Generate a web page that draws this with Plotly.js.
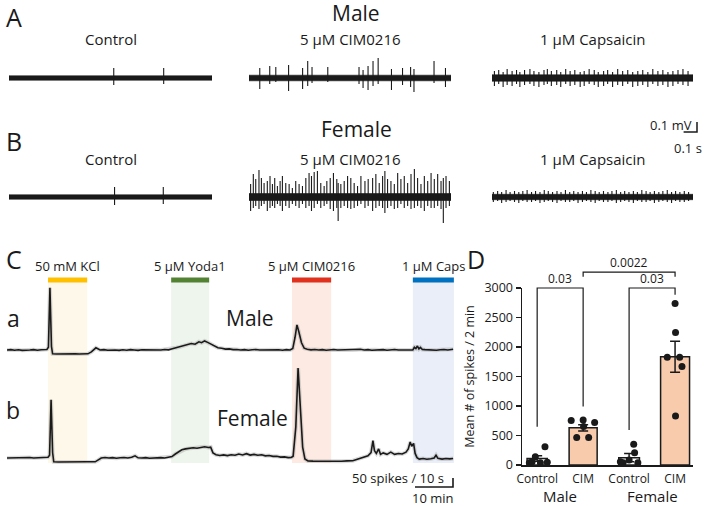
<!DOCTYPE html>
<html><head><meta charset="utf-8">
<script src="https://cdn.plot.ly/plotly-3.0.1.min.js"></script>
<style>html,body{margin:0;padding:0;background:#fff;}#chart{width:709px;height:506px;}</style>
</head><body><div id="chart"></div>
<script>
// ================= DATA =================
// Panels A/B: 1.5 s excerpts of extracellular recordings.
// spike times (ms), upward / downward spike amplitude (mV), baseline noise half-amplitude (mV)
const rawDurationMs = 1500;

const maleCtrlSpikeMs = [774, 1143];
const maleCtrlUp = [0.10, 0.10];
const maleCtrlDown = [0.07, 0.06];
const maleCtrlNoise = 0.022;

const maleCimSpikeMs = [80,154,199,294,398,436,468,585,817,847,884,921,959,1058,1140,1200,1225,1374,1459];
const maleCimUp = [0.10,0.12,0.11,0.13,0.10,0.17,0.11,0.11,0.11,0.08,0.12,0.17,0.20,0.09,0.10,0.11,0.09,0.17,0.10];
const maleCimDown = [0.11,0.06,0.04,0.13,0.11,0.08,0.05,0.04,0.06,0.10,0.12,0.08,0.06,0.12,0.07,0.09,0.14,0.05,0.09];
const maleCimNoise = 0.028;

const maleCapsSpikeMs = [18,50,83,113,150,183,208,243,283,313, 350,388,413,443,483,513,550,583,618,658,
  688,725,763,793,833,863,900,938,975,1013, 1050,1088,1125,1163,1200,1238,1275,1313,1350,1388, 1425,1463];
const maleCapsUp = [0.07,0.08,0.06,0.09,0.07,0.08,0.06,0.08,0.09,0.07, 0.06,0.08,0.09,0.07,0.08,0.06,0.09,0.07,0.08,0.06,
  0.07,0.09,0.08,0.06,0.07,0.08,0.06,0.09,0.07,0.08, 0.06,0.07,0.08,0.06,0.09,0.07,0.08,0.06,0.07,0.08, 0.09,0.07];
const maleCapsDown = [0.08,0.06,0.09,0.07,0.08,0.06,0.09,0.07,0.06,0.08, 0.09,0.07,0.06,0.08,0.07,0.09,0.06,0.08,0.07,0.09,
  0.08,0.06,0.07,0.09,0.08,0.06,0.09,0.07,0.08,0.06, 0.09,0.08,0.07,0.09,0.06,0.08,0.07,0.09,0.08,0.06, 0.07,0.08];
const maleCapsNoise = 0.032;

const femaleCtrlSpikeMs = [780, 1140];
const femaleCtrlUp = [0.10, 0.10];
const femaleCtrlDown = [0.08, 0.07];
const femaleCtrlNoise = 0.022;

const femaleCimSpikeMs = [12,32,50,74,92,112,136,156,174,191, 211,231,248,273,298,322,347,372,397,422,
  446,464,484,508,533,558,578,603,627,652, 662,682,707,732,756,781,806,831,861,885,
  918,942,967,992,1009,1029,1054,1079,1104,1128, 1153,1178,1203,1228,1252,1277,1302,1327,1352,1376,
  1401,1426,1443,1463,1488];
const femaleCimUp = [0.13,0.23,0.18,0.27,0.19,0.14,0.16,0.21,0.13,0.19, 0.11,0.16,0.21,0.14,0.13,0.09,0.16,0.13,0.11,0.19,
  0.24,0.21,0.25,0.26,0.14,0.11,0.16,0.19,0.24,0.18, 0.14,0.13,0.16,0.21,0.19,0.14,0.11,0.21,0.16,0.18,
  0.19,0.23,0.14,0.21,0.26,0.18,0.16,0.13,0.24,0.18, 0.21,0.14,0.23,0.28,0.19,0.13,0.21,0.16,0.24,0.18,
  0.23,0.16,0.19,0.21,0.16];
const femaleCimDown = [0.14,0.11,0.09,0.12,0.09,0.07,0.14,0.11,0.09,0.11, 0.07,0.09,0.14,0.09,0.11,0.07,0.09,0.11,0.07,0.11,
  0.09,0.14,0.11,0.07,0.11,0.09,0.07,0.12,0.14,0.11, 0.24,0.11,0.09,0.11,0.12,0.11,0.09,0.07,0.11,0.09,
  0.14,0.11,0.09,0.11,0.16,0.11,0.09,0.12,0.11,0.07, 0.11,0.09,0.12,0.11,0.09,0.11,0.14,0.09,0.11,0.11,
  0.09,0.12,0.26,0.11,0.09];
const femaleCimNoise = 0.035;

const femaleCapsSpikeMs = [10,42,72,105,135,168,200,230,262,295, 325,358,390,420,452,485,515,548,580,610,
  642,675,705,738,770,800,832,865,895,928, 960,990,1022,1055,1085,1118,1150,1180,1212,1245,
  1275,1308,1340,1370,1402,1435,1467];
const femaleCapsUp = [0.05,0.06,0.05,0.07,0.05,0.06,0.05,0.06,0.07,0.05, 0.06,0.05,0.07,0.06,0.05,0.06,0.05,0.07,0.05,0.06,
  0.05,0.06,0.05,0.07,0.06,0.05,0.06,0.05,0.06,0.07, 0.05,0.06,0.05,0.06,0.05,0.07,0.06,0.05,0.06,0.05,
  0.06,0.07,0.05,0.06,0.05,0.06,0.05];
const femaleCapsDown = [0.05,0.04,0.06,0.05,0.04,0.05,0.06,0.04,0.05,0.05, 0.04,0.06,0.05,0.04,0.05,0.06,0.04,0.05,0.05,0.04,
  0.06,0.05,0.04,0.05,0.06,0.04,0.05,0.05,0.04,0.06, 0.05,0.04,0.05,0.06,0.04,0.05,0.05,0.04,0.06,0.05,
  0.04,0.05,0.06,0.04,0.05,0.05,0.04];
const femaleCapsNoise = 0.027;

const rawColumnTitles = ['Control', '5 µM CIM0216', '1 µM Capsaicin'];
const rawRowTitles = ['Male', 'Female'];

// Panel C: population firing rate (spikes / 10 s) vs time (min)
const maleRateMin = [0,1,2,3,4,5,6,7,8,9,10,10.5,10.9,11.3,11.7,12.0,13,14,15,16,17,18,19,20,21.3,22.2,23.4,24.5,25.5,26.5,
  27.5,28.5,29.5,30.5,31.5,32.5,33.5,34.5,35.5,36.5,37.5,38.5,39.5,40.5,41.5,42.5,43.5,44.5,45.5,46.5,
  47.5,48.5,49.5,50.5,51.2,52,52.8,53.5,54.5,55.5,56.5,57.5,58.5,59.5,60.5,61.5,62.5,63.5,64.5,65.5,
  66.5,67.5,68.5,69.5,70.5,71.5,72.5,73.5,74.5,75.2,75.8,76.3,76.8,77.5,78.2,79,80,81,82,83,
  84,85,86,87,88,89,90,91,92,93,94,95,96,97,98,99,100,101,102,103,
  104,105,106,106.8,107.2,107.6,108,108.4,108.8,109.3,110,111,112,113,114,115,116,117.4];
const maleRate = [30,32,29,31,28,31,30,32,29,31,30,33,45,372,50,9,8,9,8,9,8,9,8,9,9,20,42,30,32,29,
  31,30,28,31,29,32,30,28,31,30,32,29,31,30,33,31,37,42,47,55,
  58,66,62,75,70,80,72,64,50,42,40,35,36,32,33,30,32,29,31,33,
  30,31,29,32,30,31,29,32,30,38,100,168,130,70,40,34,31,33,30,32,
  29,31,33,30,31,29,32,30,31,34,30,32,29,31,30,32,29,31,33,30,
  31,29,32,30,45,38,52,36,44,33,32,30,32,29,31,33,30,34];
const femaleRateMin = [0,1,2,3,4,5,6,7,8,9,10,10.8,11.2,11.6,12.0,12.3,13.5,15,16.5,18,19.5,21,23.2,24,24.8,25.8,26.8,27.8,28.8,29.8,
  30.8,31.8,32.8,33.7,34.5,35.5,36.5,37.5,38.5,39.5,40.5,41.5,42.5,43.4,44.3,45.2,46,47,48,49,
  50,51,52,53,53.6,54.2,55,56,57,58,59,60,61,62,63,64,65,66,67,68,
  69,70,71,72,73,74,74.8,75.3,76,76.6,77.2,77.8,78.4,79.2,80.5,82,83.5,85,86.5,88,
  89.5,91,92,93,94,95,95.8,96.3,96.7,97.2,97.8,98.3,99,100,101,102,103,104,105,105.6,
  106.1,106.5,107,107.4,107.9,108.5,109.5,110.5,111.5,112.4,112.9,113.4,114.5,115.5,116.5,117.4];
const femaleRate = [30,31,29,32,30,31,33,30,32,31,33,34,45,350,60,9,8,9,8,9,8,9,9,18,30,33,30,32,29,31,
  33,30,34,42,31,30,32,29,31,30,32,30,33,38,52,62,75,80,83,86,
  84,90,92,88,90,58,48,44,47,43,48,45,52,47,54,46,50,45,48,42,
  44,39,40,35,36,32,33,40,200,525,300,90,25,14,13,12,14,12,13,12,
  14,15,22,28,36,42,60,125,70,55,80,50,58,50,62,50,55,52,62,80,
  118,95,110,55,32,24,27,23,26,30,45,28,24,27,25,27];

const applicationNames = ['50 mM KCl', '5 µM Yoda1', '5 µM CIM0216', '1 µM Caps'];
const applicationStartMin = [10.8, 43.2, 75.0, 106.8];
const applicationEndMin = [21.1, 53.2, 85.3, 117.6];

// Panel D: mean # of spikes / 2 min
const groupLabels = ['Control', 'CIM', 'Control', 'CIM'];
const sexLabels = ['Male', 'Female'];
const meanSpikes = [110, 630, 125, 1835];
const semSpikes = [45, 52, 72, 262];
const maleCtrlCells = [40, 141, 311, 40, 45, 57];
const maleCimCells = [753, 464, 764, 651, 464, 719];
const femaleCtrlCells = [351, 209, 40, 85, 40, 57];
const femaleCimCells = [2739, 2247, 1828, 1828, 1670, 832];
const pValues = ['0.03', '0.03', '0.0022'];
const pPairs = [[0, 1], [2, 3], [1, 3]];

// ================= STYLE / LAYOUT =================
const FONT = 'Open Sans, sans-serif';
const INK = '#1a1a1a';
const W = 709, H = 506;
const X = p => p / W, Y = p => 1 - p / H;

const traces = [];
const layout = {
  width: W, height: H, margin: {l: 0, r: 0, t: 0, b: 0},
  paper_bgcolor: '#ffffff', plot_bgcolor: 'rgba(0,0,0,0)', showlegend: false,
  font: {family: FONT, color: INK, size: 12},
  shapes: [], annotations: []
};
let axCount = 0;
function makeAxes(px0, px1, pyTop, pyBot, xRange, yRange, extraX, extraY) {
  axCount++;
  const id = axCount === 1 ? '' : String(axCount);
  layout['xaxis' + id] = Object.assign({domain: [X(px0), X(px1)], range: xRange, visible: false, fixedrange: true, anchor: 'y' + id}, extraX || {});
  layout['yaxis' + id] = Object.assign({domain: [Y(pyBot), Y(pyTop)], range: yRange, visible: false, fixedrange: true, anchor: 'x' + id}, extraY || {});
  return {x: 'x' + id, y: 'y' + id};
}
function txt(text, px, py, size, opts) {
  layout.annotations.push(Object.assign({text: text, x: X(px), y: Y(py), xref: 'paper', yref: 'paper', showarrow: false,
    font: {size: size, family: FONT, color: INK}, xanchor: 'center', yanchor: 'middle'}, opts || {}));
}
function line(ax, xs, ys, width, color) {
  traces.push({type: 'scatter', mode: 'lines', xaxis: ax.x, yaxis: ax.y, x: xs, y: ys,
    line: {width: width, color: color || INK}, hoverinfo: 'skip'});
}

// ---- Panels A & B ----
const RAW_PX_PER_MV = 100;
const RAW_HALF_PX = 36;
const rawCols = [[9, 212], [249, 451], [492, 693]];
const rawBase = [78, 197];
const rawSets = [
  [[maleCtrlSpikeMs, maleCtrlUp, maleCtrlDown, maleCtrlNoise], [maleCimSpikeMs, maleCimUp, maleCimDown, maleCimNoise], [maleCapsSpikeMs, maleCapsUp, maleCapsDown, maleCapsNoise]],
  [[femaleCtrlSpikeMs, femaleCtrlUp, femaleCtrlDown, femaleCtrlNoise], [femaleCimSpikeMs, femaleCimUp, femaleCimDown, femaleCimNoise], [femaleCapsSpikeMs, femaleCapsUp, femaleCapsDown, femaleCapsNoise]]
];
const yHalf = RAW_HALF_PX / RAW_PX_PER_MV;
rawSets.forEach((row, r) => {
  row.forEach((set, c) => {
    const [ms, up, down, noise] = set;
    const ax = makeAxes(rawCols[c][0], rawCols[c][1], rawBase[r] - RAW_HALF_PX, rawBase[r] + RAW_HALF_PX, [0, rawDurationMs], [-yHalf, yHalf]);
    traces.push({type: 'scatter', mode: 'lines', xaxis: ax.x, yaxis: ax.y,
      x: [0, rawDurationMs, rawDurationMs, 0, 0], y: [noise, noise, -noise, -noise, noise],
      fill: 'toself', fillcolor: INK, line: {width: 0.6, color: INK}, hoverinfo: 'skip'});
    const xs = [], ys = [];
    ms.forEach((t, i) => { xs.push(t, t, null); ys.push(up[i], -down[i], null); });
    line(ax, xs, ys, 1.1);
  });
});
txt('A', 14, 17, 25);
txt('B', 14, 141, 25);
txt(rawRowTitles[0], 356, 13, 21);
txt(rawRowTitles[1], 356, 129, 21);
rawColumnTitles.forEach((t, c) => {
  const cx = (rawCols[c][0] + rawCols[c][1]) / 2;
  txt(t, cx, 39, 15);
  txt(t, cx, 159, 15);
});
// raw scale bar (0.1 mV / 0.1 s) in its own axes with the same scale
{
  const pxPerMs = (rawCols[2][1] - rawCols[2][0]) / rawDurationMs;
  const sx0 = 640, sx1 = 708, syTop = 110, syBot = 140;
  const ax = makeAxes(sx0, sx1, syTop, syBot, [0, (sx1 - sx0) / pxPerMs], [0, (syBot - syTop) / RAW_PX_PER_MV]);
  const cornerX = (697 - sx0) / pxPerMs, cornerY = (syBot - 132) / RAW_PX_PER_MV;
  line(ax, [cornerX - 100, cornerX, cornerX], [cornerY, cornerY, cornerY + 0.1], 1.5);
  txt('0.1 mV', 671, 125, 13);
  txt('0.1 s', 688, 148, 13);
}

// ---- Panel C ----
const C_X0 = 7, C_X1 = 456, C_PX_PER_MIN = 3.8, C_PX_PER_RATE = 1 / 5.5, C_BASE_RATE = 30;
const cXRange = [0, (C_X1 - C_X0) / C_PX_PER_MIN];
const cRows = [{base: 350, top: 276, bot: 366}, {base: 458, top: 360, bot: 495}];
const cAxes = cRows.map(r => makeAxes(C_X0, C_X1, r.top, r.bot, cXRange,
  [C_BASE_RATE - (r.bot - r.base) / C_PX_PER_RATE, C_BASE_RATE + (r.base - r.top) / C_PX_PER_RATE]));
const appBar = ['#FFC000', '#548235', '#E0301E', '#0070C0'];
const appShade = ['#FEF8EA', '#EEF5EC', '#FDEBE3', '#E9EEF8'];
applicationNames.forEach((name, i) => {
  layout.shapes.push({type: 'rect', layer: 'below', xref: cAxes[0].x, yref: 'paper',
    x0: applicationStartMin[i], x1: applicationEndMin[i], y0: Y(463), y1: Y(282), fillcolor: appShade[i], line: {width: 0}});
  layout.shapes.push({type: 'rect', layer: 'below', xref: cAxes[0].x, yref: 'paper',
    x0: applicationStartMin[i], x1: applicationEndMin[i], y0: Y(282.5), y1: Y(277.5), fillcolor: appBar[i], line: {width: 0}});
  txt(name, C_X0 + (applicationStartMin[i] + applicationEndMin[i]) / 2 * C_PX_PER_MIN, 266, 13);
});
[[maleRateMin, maleRate], [femaleRateMin, femaleRate]].forEach((d, i) => {
  line(cAxes[i], d[0], d[1], 4, 'rgba(150,150,150,0.35)');
  line(cAxes[i], d[0], d[1], 1.6, INK);
});
txt('C', 14, 259, 25);
txt('a', 13, 318, 23);
txt('b', 13, 410, 23);
txt('Male', 250, 318, 21);
txt('Female', 252, 418, 21);
// C scale bar: 50 spikes / 10 s, 10 min (drawn on trace-b axes)
{
  const cornerMin = (453 - C_X0) / C_PX_PER_MIN;
  const cornerRate = C_BASE_RATE - (487 - cRows[1].base) / C_PX_PER_RATE;
  line(cAxes[1], [cornerMin - 10, cornerMin, cornerMin], [cornerRate, cornerRate, cornerRate + 50], 1.6);
  txt('50 spikes / 10 s', 446, 478, 13, {xanchor: 'right'});
  txt('10 min', 433, 498, 13);
}

// ---- Panel D ----
const D_X0 = 522, D_X1 = 693, D_TOP = 288, D_BOT = 465;
const dXRange = [-0.33, 3.39];
const dAx = makeAxes(D_X0, D_X1, D_TOP, D_BOT, dXRange, [0, 3000],
  {visible: true, showline: true, linecolor: INK, linewidth: 1.5, ticks: '', showgrid: false, zeroline: false,
   tickmode: 'array', tickvals: [0, 1, 2, 3], ticktext: groupLabels, tickfont: {size: 12, family: FONT, color: INK}, ticklabelstandoff: 2},
  {visible: true, showline: true, linecolor: INK, linewidth: 1.5, ticks: 'outside', ticklen: 5, tickwidth: 1.5, tickcolor: INK,
   showgrid: false, zeroline: false, tickmode: 'array', tickvals: [0, 500, 1000, 1500, 2000, 2500, 3000],
   tickfont: {size: 12.5, family: FONT, color: INK},
   title: {text: 'Mean # of spikes / 2 min', font: {size: 12.5, family: FONT, color: INK}, standoff: 7}});
traces.push({type: 'bar', xaxis: dAx.x, yaxis: dAx.y, x: [0, 1, 2, 3], y: meanSpikes,
  width: [0.44, 0.61, 0.45, 0.63],
  marker: {color: ['#ffffff', '#F8CBAD', '#ffffff', '#F8CBAD'], line: {color: INK, width: 1.5}},
  error_y: {type: 'data', array: semSpikes, visible: true, color: INK, thickness: 1.5, width: 5}, hoverinfo: 'skip'});
const cellSets = [maleCtrlCells, maleCimCells, femaleCtrlCells, femaleCimCells];
const jitter = [[-0.17, -0.04, 0.17, 0.07, 0.22, -0.11], [-0.26, -0.14, 0, 0.01, 0.12, 0.25],
                [0.1, 0.12, -0.13, 0, 0.19, -0.19], [0, 0.01, -0.17, 0.1, 0.15, 0.01]];
cellSets.forEach((vals, g) => {
  traces.push({type: 'scatter', mode: 'markers', xaxis: dAx.x, yaxis: dAx.y, cliponaxis: false,
    x: vals.map((v, i) => g + jitter[g][i]), y: vals, marker: {size: 7, color: INK}, hoverinfo: 'skip'});
});
// significance brackets on an invisible axis pair with the same scale, extended upward
const bTop = 250;
const bAx = makeAxes(D_X0, D_X1, bTop, D_BOT, dXRange, [0, 3000 * (D_BOT - bTop) / (D_BOT - D_TOP)]);
const bracketLevel = [3000, 3000, 3270];
const bracketLegEnds = [[650, 990], [594, 2886], [3190, 3190]];
pPairs.forEach((p, i) => {
  line(bAx, [p[0], p[0], p[1], p[1]], [bracketLegEnds[i][0], bracketLevel[i], bracketLevel[i], bracketLegEnds[i][1]], 1.2);
  layout.annotations.push({text: pValues[i], xref: bAx.x, yref: bAx.y, x: (p[0] + p[1]) / 2, y: bracketLevel[i],
    yanchor: 'bottom', xanchor: 'center', showarrow: false, yshift: -1, font: {size: 12, family: FONT, color: INK}});
});
sexLabels.forEach((s, i) => {
  layout.annotations.push({text: s, xref: dAx.x, yref: 'paper', x: 0.5 + 2 * i, y: Y(495.5), showarrow: false,
    xanchor: 'center', yanchor: 'middle', font: {size: 15, family: FONT, color: INK}});
});
txt('D', 476, 259, 25);

Plotly.newPlot('chart', traces, layout, {displayModeBar: false, staticPlot: true});
</script>
</body></html>
